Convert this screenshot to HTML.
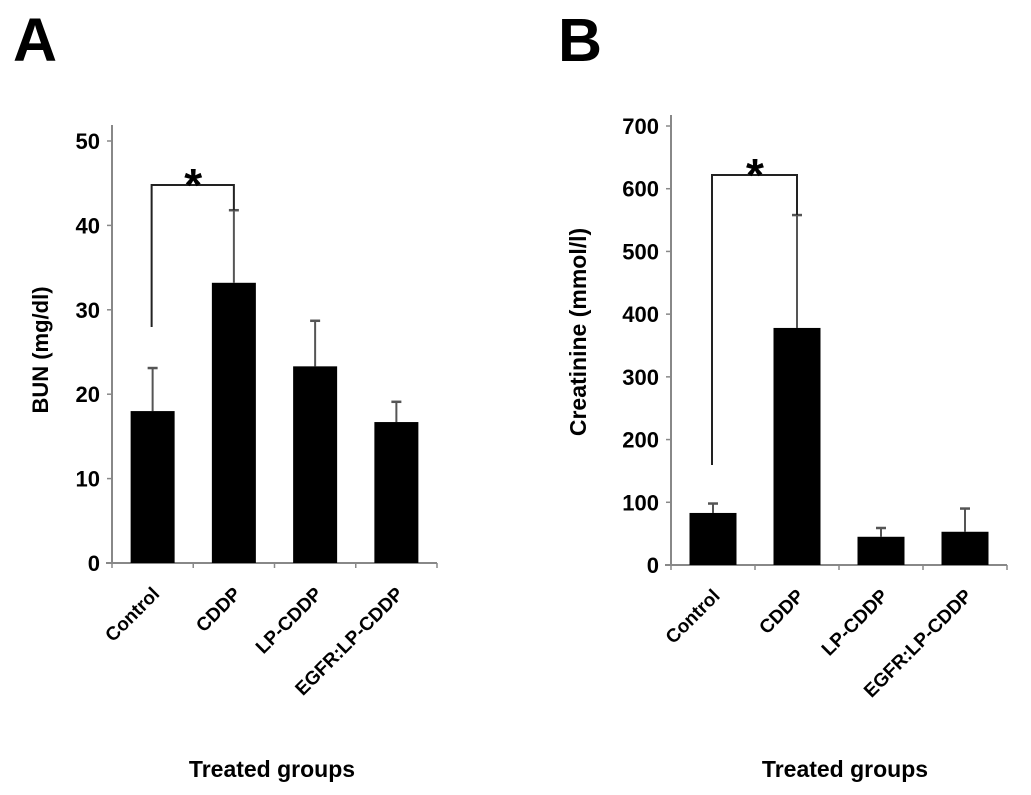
<!DOCTYPE html>
<html><head><meta charset="utf-8"><style>
body{margin:0;background:#fff;}
svg{display:block;font-family:"Liberation Sans",Arial,sans-serif;}
</style></head><body>
<svg id="chart" width="1031" height="795" viewBox="0 0 1031 795"></svg>
<script>
const categories = ["Control","CDDP","LP-CDDP","EGFR:LP-CDDP"];
const bunValues = [18, 33.2, 23.3, 16.7];
const bunErrors = [23.1, 41.8, 28.7, 19.1];
const bunTicks = [0,10,20,30,40,50];
const creatValues = [83, 378, 45, 53];
const creatErrors = [98, 558, 59, 90];
const creatTicks = [0,100,200,300,400,500,600,700];

const NS="http://www.w3.org/2000/svg";
const svg=document.getElementById('chart');
function mk(tag,attrs,parent,text){const e=document.createElementNS(NS,tag);for(const k in attrs)e.setAttribute(k,attrs[k]);if(text!==undefined)e.textContent=text;(parent||svg).appendChild(e);return e;}

function panel(cfg){
  const g=mk('g',{});
  
  
  const y=v=>cfg.y0-(v-cfg.min)/(cfg.max-cfg.min)*(cfg.y0-cfg.yTop);
  const step=(cfg.xEnd-cfg.x0)/categories.length;
  const cx=i=>cfg.x0+step*(i+0.5);
  const L=mk('text',{x:cfg.letterX,y:61,'font-size':61,'font-weight':'bold'},g,cfg.letter);
  
  
  const ya=mk('line',{x1:cfg.x0,y1:cfg.axisTop,x2:cfg.x0,y2:cfg.y0,stroke:'#888','stroke-width':2},g);
  
  
  const xa=mk('line',{x1:cfg.x0-6,y1:cfg.y0,x2:cfg.xEnd,y2:cfg.y0,stroke:'#888','stroke-width':2},g);
  
  
  for(let i=0;i<=categories.length;i++){
    const xt=cfg.x0+step*i;
    mk('line',{x1:xt,y1:cfg.y0,x2:xt,y2:cfg.y0+5,stroke:'#888','stroke-width':1.5},g);
  }
  cfg.ticks.forEach(t=>{
    mk('line',{x1:cfg.x0-5,y1:y(t),x2:cfg.x0,y2:y(t),stroke:'#888','stroke-width':1.5},g);
    const tl=mk('text',{x:cfg.x0-12,y:y(t)+8,'font-size':22,'font-weight':'bold','text-anchor':'end'},g,String(t));
    
    
  });
  categories.forEach((c,i)=>{
    const v=cfg.values[i], e=cfg.errors[i];
    const er=mk('line',{x1:cx(i),y1:y(v),x2:cx(i),y2:y(e),stroke:'#555','stroke-width':2},g);
    
    
    mk('line',{x1:cx(i)-5,y1:y(e),x2:cx(i)+5,y2:y(e),stroke:'#555','stroke-width':2.5},g);
    const b=mk('rect',{x:cx(i)-cfg.bw/2,y:y(v),width:cfg.bw,height:cfg.y0-y(v),fill:'#000'},g);
    
    
    const lx=cx(i)+8, ly=cfg.y0+32;
    const t=mk('text',{x:lx,y:ly,'font-size':19,'font-weight':'bold','text-anchor':'end',transform:`rotate(-45 ${lx} ${ly})`},g,c);
    
    
  });
  const by=cfg.bracketY;
  const br=mk('path',{d:`M${cx(0)-1},${cfg.bracketLeftBottom} V${by} H${cx(1)} V${y(cfg.errors[1])}`,fill:'none',stroke:'#222','stroke-width':2},g);
  
  
  const st=mk('text',{x:(cx(0)+cx(1))/2,y:by+16,'font-size':46,'font-weight':'bold','text-anchor':'middle'},g,'*');
  
  
  const yt=mk('text',{x:cfg.yTitleX,y:cfg.yTitleY,'font-size':cfg.yTitleSize,'font-weight':'bold','text-anchor':'middle',transform:`rotate(-90 ${cfg.yTitleX} ${cfg.yTitleY})`},g,cfg.yTitle);
  
  
  const xt=mk('text',{x:cfg.xTitleX,y:777,'font-size':23,'font-weight':'bold','text-anchor':'middle'},g,'Treated groups');
  
  
}

panel({name:'panel-a-bun',letter:'A',letterX:13,x0:112,xEnd:437,y0:563,yTop:141,axisTop:125,min:0,max:50,
  ticks:bunTicks,values:bunValues,errors:bunErrors,bw:44,bracketY:185,bracketLeftBottom:327,
  yTitle:'BUN  (mg/dl)',yTitleX:48,yTitleY:350,yTitleSize:22,xTitleX:272});
panel({name:'panel-b-creatinine',letter:'B',letterX:558,x0:671,xEnd:1007,y0:565,yTop:126,axisTop:115,min:0,max:700,
  ticks:creatTicks,values:creatValues,errors:creatErrors,bw:47,bracketY:175,bracketLeftBottom:465,
  yTitle:'Creatinine (mmol/l)',yTitleX:586,yTitleY:332,yTitleSize:23,xTitleX:845});
</script>
</body></html>
